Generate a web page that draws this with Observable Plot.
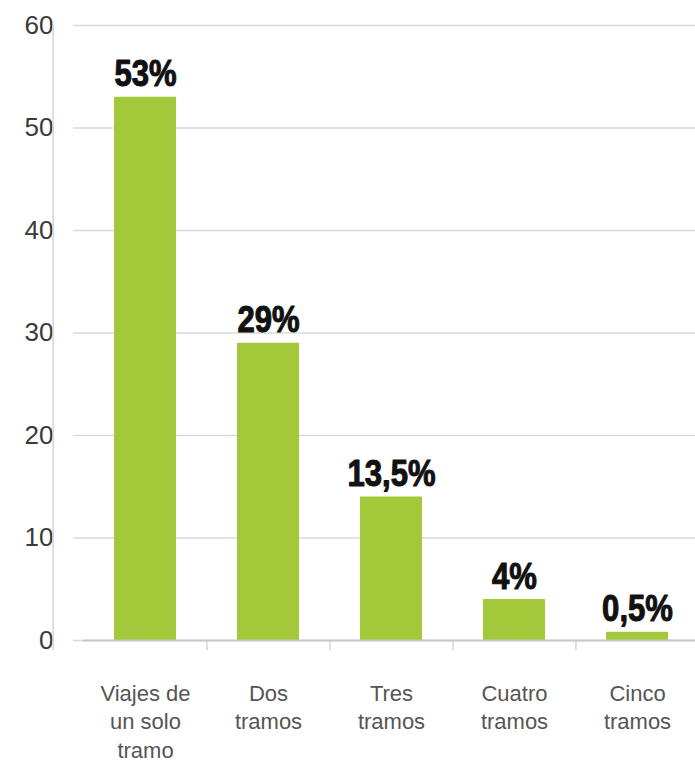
<!DOCTYPE html>
<html>
<head>
<meta charset="utf-8">
<script src="https://cdn.jsdelivr.net/npm/d3@7"></script>
<script src="https://cdn.jsdelivr.net/npm/@observablehq/plot@0.6"></script>
<style>
  html, body { margin: 0; padding: 0; background: #fff; }
  #chart svg { display: block; }
</style>
</head>
<body>
<div id="chart"></div>
<script>
// Data
const categories = ["Viajes de un solo tramo", "Dos tramos", "Tres tramos", "Cuatro tramos", "Cinco tramos"];
const tickLabels = ["Viajes de\nun solo\ntramo", "Dos\ntramos", "Tres\ntramos", "Cuatro\ntramos", "Cinco\ntramos"];
const values = [53, 29, 14, 4, 0.8];
const valueLabels = ["53%", "29%", "13,5%", "4%", "0,5%"];
const yTicks = [0, 10, 20, 30, 40, 50, 60];

const data = categories.map((c, i) => ({category: c, value: values[i], label: valueLabels[i]}));
const labelOf = new Map(categories.map((c, i) => [c, tickLabels[i]]));

const W = 695, H = 763;
const mL = 83, mR = -4, mT = 25, mB = 123;
const step = (W - mL - mR) / (categories.length - 0.5 + 0.5);

const chart = Plot.plot({
  width: W,
  height: H,
  marginLeft: mL,
  marginRight: mR,
  marginTop: mT,
  marginBottom: mB,
  style: {fontFamily: "'Liberation Sans', Arial, sans-serif", background: "#fff"},
  x: {type: "band", domain: categories, paddingInner: 0.5, paddingOuter: 0.25, label: null},
  y: {domain: [0, 60], label: null},
  marks: [
    Plot.gridY(yTicks, {stroke: "#d9d9d9", strokeOpacity: 1, strokeWidth: 1.5}),
    Plot.axisY(yTicks, {
      tickSize: 10, tickPadding: 20, stroke: "#d9d9d9", strokeWidth: 1.5,
      fontSize: 26, fill: "#3a3a3a", label: null, letterSpacing: 0.6
    }),
    // vertical axis line
    Plot.ruleX([0], {x: () => categories[0], dx: -step * 0.75, y1: -1, y2: 60, stroke: "#d4d4d4", strokeWidth: 1.5}),
    // small ticks between categories below the baseline
    Plot.ruleX(categories.slice(1), {x: d => d, dx: -step / 2, y1: 0, y2: -1, stroke: "#d4d4d4", strokeWidth: 1.5}),
    Plot.barY(data, {x: "category", y: "value", fill: "#a3c93a"}),
    Plot.ruleY([0], {stroke: "#c8c8c8", strokeWidth: 2}),
    Plot.text(data, {
      x: "category", y: "value", text: "label", dy: -11, lineAnchor: "bottom",
      className: "value-label",
      fontFamily: "'Liberation Sans', Arial, sans-serif",
      fontWeight: "bold", fontSize: 37, fill: "#111", stroke: "#111", strokeWidth: 1.1
    }),
    Plot.axisX({
      tickSize: 0, tickPadding: 40, fontSize: 22, fill: "#555", lineHeight: 1.3,
      letterSpacing: 0.8, tickFormat: d => labelOf.get(d), label: null
    })
  ]
});

// condense the bold value labels horizontally, like the heavy condensed face of the original
chart.querySelectorAll("g.value-label text, .value-label text").forEach(t => {
  const tr = t.getAttribute("transform");
  if (tr) t.setAttribute("transform", tr + " scale(0.84,1)");
});

document.getElementById("chart").appendChild(chart);
</script>
</body>
</html>
